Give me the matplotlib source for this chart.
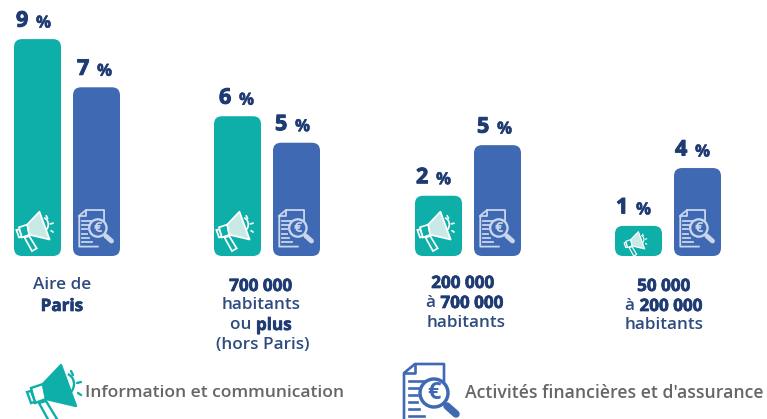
import matplotlib
matplotlib.use("Agg")
import matplotlib.pyplot as plt
import matplotlib.patheffects as pe
from matplotlib.patches import FancyBboxPatch, Polygon, Circle, Arc

plt.rcParams['font.family'] = ['Open Sans', 'DejaVu Sans']

TEAL = "#0FAFA9"
BLUE = "#3F69B2"
NAVY = "#1F3B73"
LABEL = "#2F4B80"
GREY = "#666666"

# hauteurs, etiquettes arrondies a part
info = [9.0, 5.8, 2.5, 1.25]
finance = [7.0, 4.7, 4.6, 3.65]
info_labels = ["9", "6", "2", "1"]
finance_labels = ["7", "5", "5", "4"]
legend_names = ["Information et communication", "Activités financières et d'assurance"]

info_left = [14, 214, 415, 615]
finance_left = [73, 273, 474, 674]
bar_w = 47
px_per_unit = 24.1
base_y = 256

fig = plt.figure(figsize=(7.67, 4.19), dpi=100)

# axe des valeurs : y en %, x en pixels
ax = fig.add_axes([0, 0, 1, 1])
ax.set_xlim(0, 767)
ax.set_ylim(-(419 - base_y) / px_per_unit, base_y / px_per_unit)
ax.axis("off")

# calque en pixels pour les textes et les icones
pa = fig.add_axes([0, 0, 1, 1])
pa.set_xlim(0, 767)
pa.set_ylim(419, 0)
pa.axis("off")
pa.patch.set_alpha(0)


def heavy(color, w=0.5):
    # le gras seul est trop fin par rapport a l'original
    return [pe.withStroke(linewidth=w, foreground=color)]


def bar(left, value, color):
    ax.add_patch(FancyBboxPatch((left, 0), bar_w, value,
                                boxstyle="round,pad=0,rounding_size=8",
                                mutation_aspect=1 / px_per_unit,
                                fc=color, ec="none"))


def value_label(left, value, txt, dx):
    y = base_y - value * px_per_unit - 18
    pa.text(left + dx, y, txt, fontsize=15.5, fontweight="bold", color=NAVY,
            ha="left", va="center", path_effects=heavy(NAVY, 0.7))
    pa.text(left + dx + 20, y + 1.5, "%", fontsize=12, fontweight="bold", color=NAVY,
            ha="left", va="center", path_effects=heavy(NAVY, 0.4))


def megaphone(cx, cy, s, line, fill, body):
    def P(pts):
        return [(cx + x * s, cy + y * s) for x, y in pts]
    lw = 1.5 * s + 0.2
    pa.add_patch(Arc((cx + 13 * s, cy - 8 * s), 16 * s, 20 * s, theta1=-80, theta2=80,
                     ec=line, lw=lw, fill=False))
    pa.add_patch(Polygon(P([(-10, -8), (-7, 7), (-18, 11), (-22, -4)]), fc=body, ec=line, lw=lw))
    pa.add_patch(Polygon(P([(-22, -1), (-26, 0), (-22, 11), (-18, 10)]), fc=body, ec=line, lw=lw))
    pa.add_patch(Polygon(P([(-14, 11), (-7, 9), (4, 27), (-3, 31)]), fc=body, ec=line, lw=lw))
    pa.add_patch(Polygon(P([(-10, -8), (8, -27), (23, 14), (-7, 7)]), fc=fill, ec=line, lw=lw,
                         joinstyle="round"))
    for a, b in [((18, -21), (20, -17)), ((24, -9), (28, -10)), ((25, 1), (28, 3))]:
        pa.plot(*zip(*P([a, b])), color=line, lw=lw, solid_capstyle="round")


def document(cx, cy, s, line, lens_fc):
    def P(pts):
        return [(cx + x * s, cy + y * s) for x, y in pts]
    lw = 1.6 * s + 0.3
    page = [(13, -12), (13, -29), (-16, -29), (-27, -20), (-27, 30), (3, 30)]
    pa.plot(*zip(*P(page)), color=line, lw=lw)
    pa.plot(*zip(*P([(-27, -20), (-16, -20), (-16, -29)])), color=line, lw=lw)
    for y, x1 in [(-12, -4), (-5, -12), (2, -14), (9, -14), (16, -12), (23, -7)]:
        pa.plot(*zip(*P([(-22, y), (x1, y)])), color=line, lw=lw)
    pa.plot(*zip(*P([(16, 13), (25, 21)])), color=line, lw=5 * s + 0.4, solid_capstyle="round")
    pa.add_patch(Circle((cx + 3 * s, cy), 14 * s, fc=lens_fc, ec=line, lw=lw * 1.3, zorder=3))
    pa.text(cx + 3 * s, cy, "€", fontsize=17 * s, fontweight="bold", color=line,
            ha="center", va="center", zorder=4)


dx_info = [2, 5, 1, 1]
dx_fin = [4, 2, 3, 1]
for i in range(4):
    bar(info_left[i], info[i], TEAL)
    bar(finance_left[i], finance[i], BLUE)
    value_label(info_left[i], info[i], info_labels[i], dx_info[i])
    value_label(finance_left[i], finance[i], finance_labels[i], dx_fin[i])

# icones dans les barres
for left, s in zip(info_left, [0.68, 0.68, 0.68, 0.42]):
    megaphone(left + 20, 230 if s > 0.5 else 243, s, "white", "#C9E9E7", TEAL)
for left in finance_left:
    document(left + 23, 228, 0.62, "#C9D6EC", BLUE)


def cat_line(x, y, parts):
    # parts : (texte, gras) poses l'un apres l'autre, centres sur x
    r = fig.canvas.get_renderer()
    items = []
    for t, b in parts:
        it = pa.text(0, y, t, fontsize=12.3, color=LABEL, va="center", ha="left",
                     fontweight="bold" if b else "semibold")
        if b:
            it.set_color(NAVY)
            it.set_path_effects(heavy(NAVY))
        items.append(it)
    widths = [it.get_window_extent(r).width for it in items]
    cur = x - sum(widths) / 2
    for it, w in zip(items, widths):
        it.set_x(cur)
        cur += w


cat_line(62, 285, [("Aire de", False)])
cat_line(62, 306, [("Paris", True)])
cat_line(261, 286, [("700 000", True)])
cat_line(261, 305, [("habitants", False)])
cat_line(261, 325, [("ou ", False), ("plus", True)])
cat_line(263, 345, [("(hors Paris)", False)])
cat_line(463, 283, [("200 000", True)])
cat_line(465, 303, [("à ", False), ("700 000", True)])
cat_line(466, 323, [("habitants", False)])
cat_line(664, 286, [("50 000", True)])
cat_line(664, 306, [("à ", False), ("200 000", True)])
cat_line(664, 325, [("habitants", False)])

# legende
megaphone(53, 392, 1.0, TEAL, TEAL, "white")
document(431, 393, 1.0, BLUE, "white")
pa.text(85, 393, legend_names[0], fontsize=12.6, fontweight="semibold", color=GREY, va="center")
pa.text(465, 393, legend_names[1], fontsize=12.7, fontweight="semibold", color=GREY, va="center")

fig.savefig("out.png", dpi=100)
